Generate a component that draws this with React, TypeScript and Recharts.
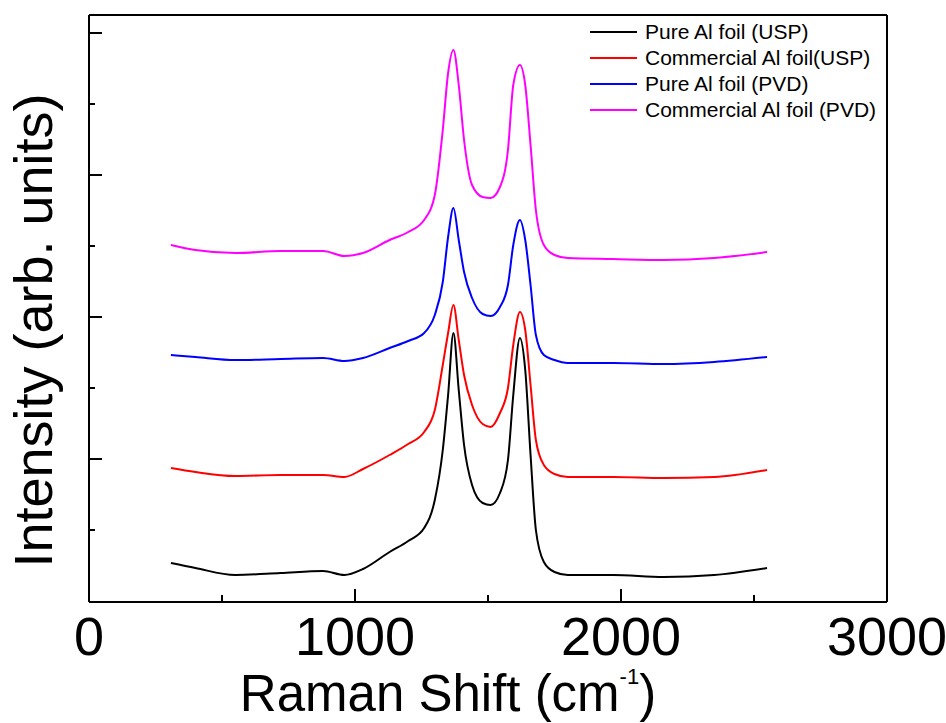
import React from 'react';
import { LineChart, Line, XAxis, YAxis, Legend, Label } from 'recharts';

// Raman shift (cm-1) sample positions shared by all spectra
const shifts = [308, 400, 550, 720, 880, 960, 1030, 1130, 1200, 1260, 1300, 1330, 1350, 1370, 1390, 1410, 1440, 1480, 1510, 1545, 1575, 1595, 1620, 1640, 1660, 1680, 1710, 1750, 1800, 1970, 2160, 2350, 2549];

// Intensities (arb. units, stacked offsets as in the figure)
const pureUsp = [39, 34, 27, 29, 31, 27, 33, 50, 61, 74, 102, 152, 207, 269, 212, 157, 117, 99, 97, 109, 142, 207, 264, 232, 147, 72, 40, 30, 27, 27, 25, 27, 34];
const commUsp = [134, 130, 126, 127, 127, 125, 133, 147, 158, 170, 192, 237, 269, 297, 262, 227, 197, 178, 175, 189, 214, 257, 290, 272, 217, 162, 137, 128, 125, 125, 124, 125, 132];
const purePvd = [247, 245, 242, 243, 244, 241, 244, 254, 261, 269, 287, 320, 365, 394, 362, 330, 304, 288, 286, 295, 317, 357, 382, 362, 317, 267, 247, 242, 239, 239, 238, 240, 245];
const commPvd = [357, 352, 349, 351, 351, 346, 349, 362, 370, 382, 407, 472, 529, 552, 517, 462, 417, 405, 404, 415, 452, 517, 537, 517, 457, 392, 357, 347, 344, 343, 342, 344, 350];

const xTicks = [0, 500, 1000, 1500, 2000, 2500, 3000];
const yTicks = [72, 143, 214, 285, 356, 427, 498, 569];
const majorYTicks = [143, 285, 427, 569];

const seriesInfo = [
  { key: 'pureUsp', name: 'Pure Al foil (USP)', color: '#000000' },
  { key: 'commUsp', name: 'Commercial Al foil(USP)', color: '#ff0000' },
  { key: 'purePvd', name: 'Pure Al foil (PVD)', color: '#0000ff' },
  { key: 'commPvd', name: 'Commercial Al foil (PVD)', color: '#ff00ff' },
];

const data = shifts.map((shift, i) => ({
  shift,
  pureUsp: pureUsp[i],
  commUsp: commUsp[i],
  purePvd: purePvd[i],
  commPvd: commPvd[i],
}));

const FONT = '"Liberation Sans", Arial, sans-serif';

const XTick = (props: any) => {
  const { x, y, payload } = props;
  const major = payload.value % 1000 === 0;
  return (
    <g>
      <line x1={x} y1={y} x2={x} y2={y - (major ? 13 : 7)} stroke="#000" strokeWidth={2} />
      {major && (
        <text x={x} y={y + 53} textAnchor="middle" fontSize={54} fontFamily={FONT} fill="#000">
          {payload.value}
        </text>
      )}
    </g>
  );
};

const YTick = (props: any) => {
  const { x, y, payload } = props;
  const major = majorYTicks.includes(payload.value);
  return <line x1={x} y1={y} x2={x + (major ? 13 : 6)} y2={y} stroke="#000" strokeWidth={2} />;
};

const XTitle = (props: any) => {
  const { x, y, width } = props.viewBox;
  return (
    <text x={x + width / 2 - 40} y={y + 109} textAnchor="middle" fontSize={51} fontFamily={FONT} fill="#000">
      Raman Shift (cm
      <tspan dy={-27} fontSize={22}>-1</tspan>
      <tspan dy={27}>)</tspan>
    </text>
  );
};

const YTitle = (props: any) => {
  const { x, y, width, height } = props.viewBox;
  const cx = x + width - 37;
  const cy = y + height / 2 + 22;
  return (
    <text x={cx} y={cy} transform={`rotate(-90, ${cx}, ${cy})`} textAnchor="middle" fontSize={54} fontFamily={FONT} fill="#000">
      Intensity (arb. units)
    </text>
  );
};

const LegendBox = () => (
  <svg width={300} height={110}>
    {seriesInfo.map((s, i) => (
      <g key={s.key}>
        <line x1={2} y1={13 + i * 26} x2={49} y2={13 + i * 26} stroke={s.color} strokeWidth={2} />
        <text x={57} y={20 + i * 26} fontSize={21} fontFamily={FONT} fill="#000">
          {s.name}
        </text>
      </g>
    ))}
  </svg>
);

const axisStroke = { stroke: '#000', strokeWidth: 2 };

export default function App() {
  return (
    <div style={{ position: 'absolute', left: 0, top: 0, background: '#fff' }}>
      <LineChart width={946} height={723} data={data} margin={{ top: 0, right: 0, bottom: 0, left: 0 }}>
        <XAxis
          dataKey="shift"
          type="number"
          domain={[0, 3000]}
          ticks={xTicks}
          height={121}
          tickSize={0}
          tickMargin={0}
          tickLine={false}
          tick={<XTick />}
          axisLine={axisStroke}
          interval={0}
        >
          <Label content={<XTitle />} />
        </XAxis>
        <XAxis xAxisId="top" orientation="top" dataKey="shift" type="number" domain={[0, 3000]} height={15} tick={false} tickLine={false} axisLine={axisStroke} />
        <YAxis
          type="number"
          domain={[0, 587]}
          ticks={yTicks}
          width={89}
          tickSize={0}
          tickMargin={0}
          tickLine={false}
          tick={<YTick />}
          axisLine={axisStroke}
          interval={0}
        >
          <Label content={<YTitle />} />
        </YAxis>
        <YAxis yAxisId="right" orientation="right" type="number" domain={[0, 587]} width={59} tick={false} tickLine={false} axisLine={axisStroke} />
        <Legend
          layout="vertical"
          align="center"
          verticalAlign="middle"
          content={<LegendBox />}
          wrapperStyle={{ left: 588, top: 19, width: 300, height: 110 }}
        />
        {seriesInfo.map((s) => (
          <Line
            key={s.key}
            type="monotone"
            dataKey={s.key}
            name={s.name}
            stroke={s.color}
            strokeWidth={2}
            dot={false}
            isAnimationActive={false}
          />
        ))}
      </LineChart>
    </div>
  );
}
